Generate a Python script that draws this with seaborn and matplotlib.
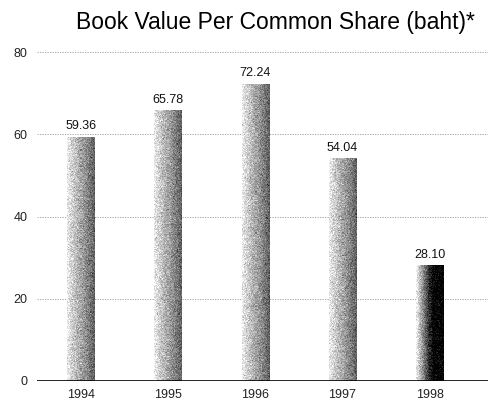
import numpy as np
import pandas as pd
import matplotlib
matplotlib.use('Agg')
import matplotlib.pyplot as plt
import seaborn as sns

years = ['1994', '1995', '1996', '1997', '1998']
book_value = [59.36, 65.78, 72.24, 54.04, 28.10]
value_labels = ['59.36', '65.78', '72.24', '54.04', '28.10']
y_ticks = [0, 20, 40, 60, 80]

df = pd.DataFrame({'year': years, 'value': book_value})

sns.set_style('white')
plt.rcParams['font.family'] = ['Liberation Sans', 'DejaVu Sans']

fig = plt.figure(figsize=(4.88, 4.01), dpi=100)
ax = fig.add_axes([0.076, 0.05, 0.924, 0.82])

sns.barplot(data=df, x='year', y='value', color='white', width=0.31, ax=ax, zorder=3)

# shaded (dithered) fill for each bar
rng = np.random.default_rng(3)
for i, p in enumerate(ax.patches):
    x0, w, h = p.get_x(), p.get_width(), p.get_height()
    t = np.linspace(0, 1, 27)
    if i == len(ax.patches) - 1:
        base = np.clip(0.95 - 1.6 * t, 0.0, 1)
    else:
        base = 0.92 - 0.55 * t
    nrow = int(h * 4.1)
    img = np.tile(base, (nrow, 1)) + rng.normal(0, 0.08, (nrow, 27))
    img = np.clip(img, 0, 1)
    ax.imshow(img, cmap='gray', vmin=0, vmax=1, aspect='auto',
              extent=(x0, x0 + w, 0, h), zorder=3, interpolation='nearest')
    p.set_visible(False)
    ax.text(x0 + w / 2, h + 1.2, value_labels[i], ha='center', va='bottom',
            fontsize=9, color='#111111', zorder=4)

ax.set_xlim(-0.5, 4.67)
ax.set_ylim(0, 80)
ax.set_yticks(y_ticks)
ax.set_yticklabels([str(v) for v in y_ticks], fontsize=9, color='#222222')
ax.tick_params(axis='y', length=0, pad=7)
ax.tick_params(axis='x', length=0, pad=6, labelsize=9, labelcolor='#222222')
ax.set_xlabel('')
ax.set_ylabel('')
for v in y_ticks[1:]:
    ax.axhline(v, color='#999999', lw=0.6, ls=(0, (1.5, 1.5)), zorder=1)
ax.axhline(0, color='black', lw=1.2, zorder=5)
for s in ['top', 'right', 'left', 'bottom']:
    ax.spines[s].set_visible(False)

fig.text(0.565, 0.945, 'Book Value Per Common Share (baht)*', ha='center', va='center',
         fontsize=16.5, color='black')

fig.savefig('out.png', dpi=100)
